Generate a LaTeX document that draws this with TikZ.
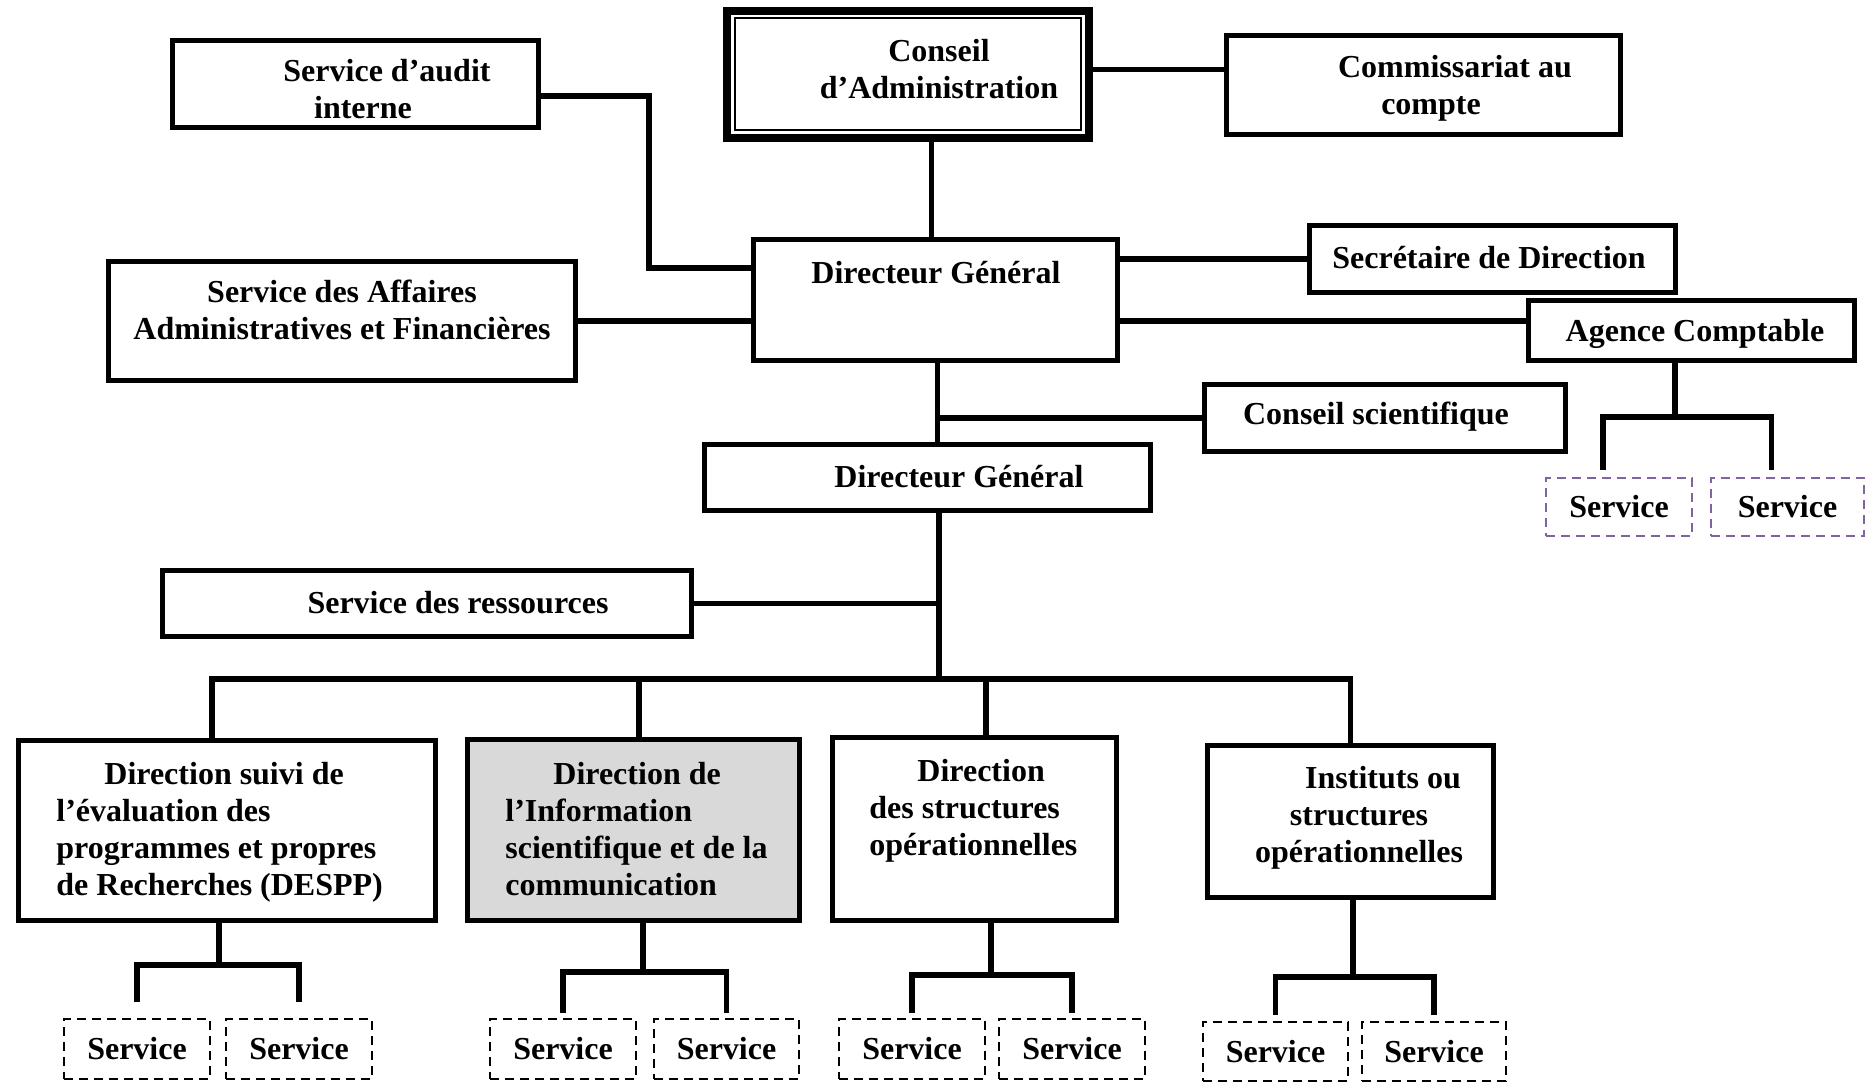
\documentclass[tikz,border=0pt]{standalone}
\usepackage{fontspec}
\setmainfont{Liberation Serif}
\usetikzlibrary{fit}
\definecolor{svcpurple}{HTML}{8064A2}
\definecolor{boxgray}{HTML}{D9D9D9}

\begin{document}
\begin{tikzpicture}[x=0.5pt, y=-0.5pt,
  every node/.style={font=\bfseries\fontsize{16}{18.5}\selectfont, inner sep=0pt, align=center},
  box/.style={draw, line width=2.5pt, inner sep=-1.25pt},
  cabox/.style={draw, line width=4pt, inner sep=-2pt},
  svc/.style={draw, line width=1pt, dash pattern=on 4.5pt off 3pt, inner sep=-0.5pt},
  link/.style={line width=2.6pt}]

\useasboundingbox (0,0) rectangle (1868,1083);

% top row
\node[box, fit={(170,38) (541,130)}] (audit) {};
\node (audit-t) at (363,89) {\hspace*{24pt}Service d’audit\\interne};
\node[cabox, fit={(723,7) (1093,142)}] (ca) {};
\draw[line width=1pt] ([shift={(6pt,-5.5pt)}]ca.north west) rectangle
  ([shift={(-6pt,6pt)}]ca.south east);
\node (ca-t) at (939,69) {Conseil\\d’Administration};
\node[box, fit={(1224,33) (1623,137)}] (comm) {};
\node (comm-t) at (1431,88) {\hspace*{24pt}Commissariat au\\compte};

% direction
\node[box, fit={(751,237) (1120,363)}] (dg1) {};
\node (dg1-t) at (936,273) {Directeur Général};
\node[box, fit={(1307,223) (1678,295)}] (sec) {};
\node (sec-t) at (1489,258) {Secrétaire de Direction};
\node[box, fit={(106,259) (578,383)}] (saaf) {};
\node (saaf-t) at (342,310) {Service des Affaires\\Administratives et Financières};
\node[box, fit={(1526,298) (1857,363)}] (ag) {};
\node (ag-t) at (1695,334) {Agence Comptable};
\node[box, fit={(1202,382) (1568,454)}] (cs) {};
\node (cs-t) at (1376,417) {Conseil scientifique};
\node[box, fit={(702,442) (1153,513)}] (dg2) {};
\node (dg2-t) at (959,477) {Directeur Général};
\node[box, fit={(160,568) (694,639)}] (res) {};
\node (res-t) at (458,603) {Service des ressources};

% directions
\node[box, fit={(16,738) (438,923)}] (despp) {};
\node[anchor=west, align=left] (despp-t) at (56,832) {\hspace*{24pt}Direction suivi de\\l’évaluation des\\programmes et propres\\de Recherches (DESPP)};
\node[box, fill=boxgray, fit={(465,737) (802,923)}] (disc) {};
\node[anchor=west, align=left] (disc-t) at (505,829) {\hspace*{24pt}Direction de\\l’Information\\scientifique et de la\\communication};
\node[box, fit={(830,735) (1119,923)}] (dso) {};
\node[anchor=west, align=left] (dso-t) at (869,811) {\hspace*{24pt}Direction\\des structures\\opérationnelles};
\node[box, fit={(1205,743) (1496,900)}] (inst) {};
\node (inst-t) at (1359,818) {\hspace*{24pt}Instituts ou\\structures\\opérationnelles};

% services
\foreach \n/\xa/\xb/\ya/\yb in {s11/63/211/1018/1080, s12/225/373/1018/1080,
  s21/489/637/1018/1080, s22/653/800/1018/1080, s31/838/986/1018/1080,
  s32/998/1146/1018/1080, s41/1202/1349/1021/1082, s42/1361/1507/1021/1082} {
  \node[svc, fit={(\xa,\ya) (\xb,\yb)}] (\n) {};
  \node (\n-t) at (\n) {Service};
}
\node[svc, draw=svcpurple, fit={(1545,477) (1693,537)}] (sa1) {};
\node (sa1-t) at (sa1) {Service};
\node[svc, draw=svcpurple, fit={(1710,477) (1865,537)}] (sa2) {};
\node (sa2-t) at (sa2) {Service};

\coordinate (hub) at (939,679);
\coordinate (ag-br) at (1675,417);
\coordinate (despp-br) at (219,965);
\coordinate (disc-br) at (643,972);
\coordinate (dso-br) at (991,975);
\coordinate (inst-br) at (1353,977);

\begin{scope}[link]
  \draw ([yshift=-6pt]audit.east) -- ++(108,0) |- ([yshift=16pt]dg1.west);
  \draw ([xshift=-2pt]dg1.north) -- ([xshift=-2pt]dg1.north |- ca.south);
  \draw ([yshift=2.5pt]ca.east) -- ([yshift=2.5pt]ca.east -| comm.west);
  \draw (sec.west) -- (sec.west -| dg1.east);
  \draw (saaf.east) -- (saaf.east -| dg1.west);
  \draw (dg1.east |- saaf.east) -- (ag.west |- saaf.east);
  \draw ([xshift=1pt]dg1.south) -- ([xshift=1pt]dg1.south |- dg2.north);
  \draw (cs.west) -- (cs.west -| dg1.south);
  \draw (ag.south -| ag-br) -- (ag-br);
  \draw ([xshift=-8pt,yshift=3.5pt]sa1.north) |- (ag-br) -| ([xshift=-8pt,yshift=3.5pt]sa2.north);

  \draw (dg2.south -| hub) -- (hub);
  \draw (res.east) -- (res.east -| hub);
  \draw ([xshift=-7.5pt]despp.north) |- (hub) -| (inst.north);
  \draw ([xshift=2.75pt]disc.north) -- ([xshift=2.75pt]disc.north |- hub);
  \draw ([xshift=5.75pt]dso.north) -- ([xshift=5.75pt]dso.north |- hub);

  \foreach \p/\a/\b/\g in {despp/s11/s12/8pt, disc/s21/s22/2.5pt,
    dso/s31/s32/2.5pt, inst/s41/s42/3pt} {
    \draw (\p.south -| \p-br) -- (\p-br);
    \draw ([yshift=\g]\a.north) |- (\p-br) -| ([yshift=\g]\b.north);
  }
\end{scope}
\end{tikzpicture}
\end{document}
